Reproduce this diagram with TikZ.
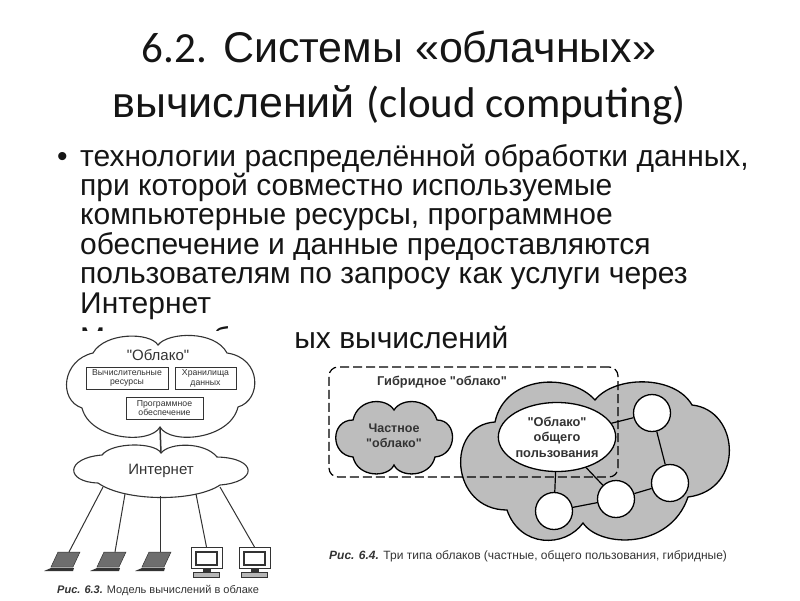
\documentclass[tikz,border=0pt]{standalone}
\usepackage{fontspec}
\setmainfont{Liberation Sans}[Ligatures=TeXOff]
\newfontfamily\latinpart{Carlito}
\usetikzlibrary{shapes.geometric, positioning}
\definecolor{inkBlack}{HTML}{151515}
\definecolor{figInk}{HTML}{333333}
\definecolor{cloudGrey}{HTML}{BDBDBD}
\definecolor{laptopGrey}{HTML}{6E6E6E}

\begin{document}
\begin{tikzpicture}[
    x=1pt, y=-1pt,
    heading/.style={font=\fontsize{43}{55}\selectfont, text=inkBlack, align=center, inner sep=0pt},
    bodytext/.style={font=\fontsize{30}{29.4}\selectfont, text=inkBlack, align=left, inner sep=0pt, anchor=base west},
    cloudline/.style={draw=figInk, line width=1.1pt, fill=white},
    greycloud/.style={draw=black, line width=1.3pt, fill=cloudGrey},
    resbox/.style={rectangle, draw=figInk, line width=0.9pt, fill=white, align=center, inner sep=0pt, text=figInk, font=\fontsize{8.7}{9.8}\selectfont},
    link/.style={draw=figInk, line width=1pt},
    hub/.style={circle, draw=black, line width=1.3pt, fill=white, minimum size=37pt, inner sep=0pt},
    publicnode/.style={ellipse, draw=black, line width=1.3pt, fill=white, minimum width=114pt, minimum height=69pt, inner sep=0pt, align=center, text=figInk, font=\fontsize{12.8}{15.5}\selectfont\bfseries},
    figlabel/.style={text=figInk, align=center, inner sep=0pt},
    figcaption/.style={text=figInk, inner sep=0pt, anchor=base west},
    laptop/.pic={
        \fill[laptopGrey, draw=figInk, line width=0.5pt] (-11,0) -- (11,0) -- (4,15) -- (-18,15) -- cycle;
        \fill[figInk] (-18,16) -- (5,16) -- (4,19) -- (-25,19) -- cycle;
        \coordinate (-top) at (0,0);
    },
    monitor/.pic={
        \draw[figInk, line width=0.8pt, fill=white] (-15.5,0) rectangle (15.5,21);
        \draw[figInk, line width=1.1pt, fill=white] (-10.5,5) rectangle (10.5,18);
        \fill[figInk] (-4,21) rectangle (4,25);
        \draw[figInk, line width=0.6pt, fill=laptopGrey!50] (-13,25) rectangle (13,30);
        \coordinate (-top) at (0,0);
    }
]
    \useasboundingbox (0,0) rectangle (800,600);

    % Title and text
    \node[heading] (title) at (399,78) {{\latinpart 6.2.} Системы «облачных»\\вычислений {\latinpart (cloud computing)}};
    \node[bodytext] (bullet) at (57,166) {•};
    \node[bodytext] (body) at (80,313) {технологии распределённой обработки данных,\\при которой совместно используемые\\компьютерные ресурсы, программное\\обеспечение и данные предоставляются\\пользователям по запросу как услуги через\\Интернет};
    \node[bodytext] (model) at (80,348) {Модель облачных вычислений};
    \fill[white] (56,331) rectangle (296,600);

    % Left figure
    \draw[cloudline] (158,345) .. controls (150,332) and (105,332) .. (93,353)
        .. controls (62,360) and (58,400) .. (82,408)
        .. controls (90,440) and (150,445) .. (160,427)
        .. controls (170,445) and (230,440) .. (238,407)
        .. controls (262,400) and (262,358) .. (227,353)
        .. controls (215,330) and (168,332) .. (158,345) -- cycle;
    \node[figlabel, font=\fontsize{15}{17}\selectfont] (cloudname) at (158,355) {"Облако"};
    \node[resbox, minimum width=82pt, minimum height=22pt] (compute) at (127,378) {Вычислительные\\ресурсы};
    \node[resbox, minimum width=61pt, minimum height=22pt] (storage) at (205.5,378) {Хранилища\\данных};
    \node[resbox, minimum width=77pt, minimum height=22pt] (software) at (164.5,408) {Программное\\обеспечение};
    \coordinate (cloudbottom) at (160,427);
    \coordinate (inettop) at (161,453);
    \draw[link, line width=1.5pt] (cloudbottom) -- (inettop);

    \draw[cloudline] (161,453) .. controls (155,442) and (112,442) .. (102,455)
        .. controls (65,458) and (65,482) .. (98,483)
        .. controls (125,502) and (195,502) .. (220,485)
        .. controls (258,482) and (258,458) .. (217,457)
        .. controls (205,442) and (170,442) .. (161,453) -- cycle;
    \node[figlabel, font=\fontsize{15}{17}\selectfont] (inet) at (161,471) {Интернет};

    \pic (lapA) at (69,552) {laptop};
    \pic (lapB) at (115,552) {laptop};
    \pic (lapC) at (160,552) {laptop};
    \pic (monA) at (206.5,547) {monitor};
    \pic (monB) at (254.5,547) {monitor};
    \coordinate (inetA) at (103,487);
    \coordinate (inetB) at (125,494);
    \coordinate (inetC) at (160,496);
    \coordinate (inetD) at (196,494);
    \coordinate (inetE) at (220,487);
    \draw[link] (inetA) -- (lapA-top);
    \draw[link] (inetB) -- (lapB-top);
    \draw[link] (inetC) -- (lapC-top);
    \draw[link] (inetD) -- (monA-top);
    \draw[link] (inetE) -- (monB-top);
    \node[figcaption, font=\fontsize{11}{13}\selectfont] (capleft) at (57,593) {\textbf{\textit{Рис. 6.3.}} Модель вычислений в облаке};

    % Right figure
    \draw[greycloud] (394,410) .. controls (402,397) and (430,398) .. (437,420)
        .. controls (458,420) and (458,455) .. (435,457)
        .. controls (430,478) and (400,478) .. (394,465)
        .. controls (388,478) and (358,478) .. (353,457)
        .. controls (330,455) and (330,420) .. (353,420)
        .. controls (358,398) and (386,397) .. (394,410) -- cycle;
    \node[figlabel, font=\fontsize{12.5}{15.5}\selectfont\bfseries] (private) at (394,436) {Частное\\"облако"};

    \draw[greycloud] (495,422) .. controls (505,375) and (570,372) .. (595,400)
        .. controls (615,375) and (675,375) .. (692,405)
        .. controls (740,410) and (745,490) .. (688,497)
        .. controls (670,550) and (600,548) .. (583,523)
        .. controls (565,548) and (520,548) .. (507,510)
        .. controls (450,510) and (445,425) .. (495,422) -- cycle;

    \node[publicnode] (public) at (557,437) {"Облако"\\общего\\пользования};
    \node[hub] (hubA) at (652,413) {};
    \node[hub] (hubB) at (670,483) {};
    \node[hub] (hubC) at (616,499) {};
    \node[hub] (hubD) at (554,511) {};
    \draw[black, line width=1.2pt] (public) -- (hubA);
    \draw[black, line width=1.2pt] (public) -- (hubC);
    \draw[black, line width=1.2pt] (public) -- (hubD);
    \draw[black, line width=1.2pt] (hubA) -- (hubB);
    \draw[black, line width=1.2pt] (hubB) -- (hubC);
    \draw[black, line width=1.2pt] (hubC) -- (hubD);

    \node[rectangle, draw=black, dash pattern=on 9pt off 4pt, line width=1.2pt, rounded corners=9pt, minimum width=289pt, minimum height=110pt, inner sep=0pt] (hybridbox) at (473.5,422) {};
    \node[figlabel, font=\fontsize{12.8}{14}\selectfont\bfseries] (hybrid) at (442,382) {Гибридное "облако"};
    \node[figcaption, font=\fontsize{12}{14}\selectfont] (capright) at (329,559) {\textbf{\textit{Рис. 6.4.}} Три типа облаков (частные, общего пользования, гибридные)};
\end{tikzpicture}
\end{document}
